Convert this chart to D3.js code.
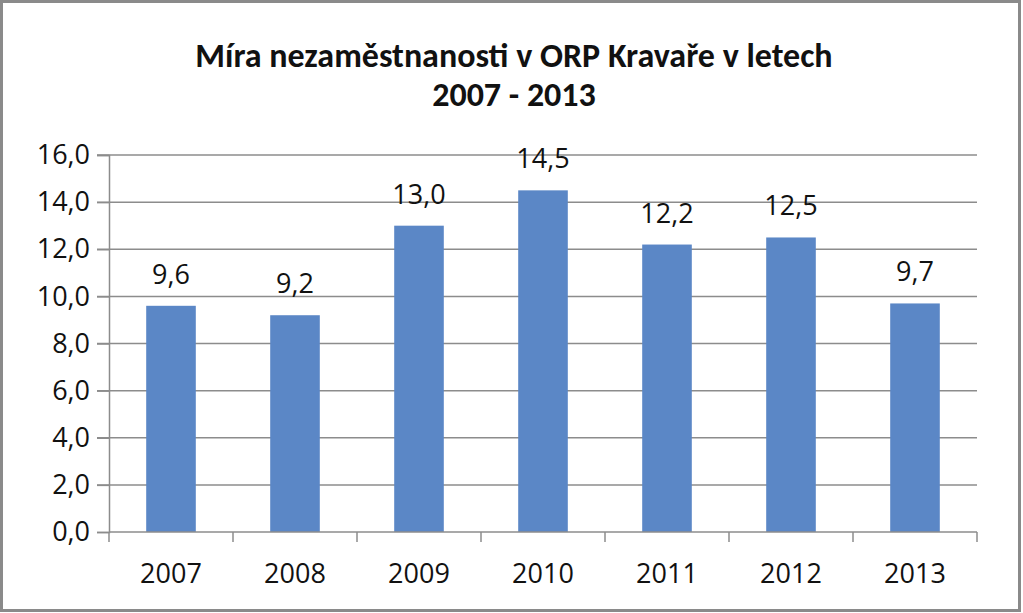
<!DOCTYPE html>
<html>
<head>
<meta charset="utf-8">
<script src="https://cdn.jsdelivr.net/npm/d3@7"></script>
<style>
  body { margin: 0; background: #fff; }
  svg text { font-family: "Open Sans", Lato, sans-serif; fill: #111; }
  svg text.title { font-family: Carlito, Lato, sans-serif; }
</style>
</head>
<body>
<div class="chart"></div>
<script>
var years = ["2007", "2008", "2009", "2010", "2011", "2012", "2013"];
var rates = [9.6, 9.2, 13.0, 14.5, 12.2, 12.5, 9.7];
var yTicks = [0, 2, 4, 6, 8, 10, 12, 14, 16];
var titleLines = ["Míra nezaměstnanosti v ORP Kravaře v letech", "2007 - 2013"];

var W = 1023, H = 613;
var margin = { top: 155, right: 46, bottom: 81, left: 109 };
var width = W - margin.left - margin.right,
    height = H - margin.top - margin.bottom;

var fmt = function (v) { return d3.format(".1f")(v).replace(".", ","); };

var svg = d3.select(".chart")
    .append("svg")
    .attr("width", W)
    .attr("height", H);

// outer frame
svg.append("rect")
    .attr("x", 1.5).attr("y", 1.5)
    .attr("width", W - 5).attr("height", H - 4)
    .attr("fill", "none")
    .attr("stroke", "#8a8a8a")
    .attr("stroke-width", 3);

svg.selectAll(".title")
    .data(titleLines)
    .enter()
    .append("text")
    .attr("class", "title")
    .attr("x", 514)
    .attr("y", (d, i) => 67 + i * 39)
    .attr("text-anchor", "middle")
    .style("font-size", "34px")
    .style("font-weight", "bold")
    .text(d => d);

var g = svg.append("g")
    .attr("transform", "translate(" + margin.left + "," + margin.top + ")");

var x = d3.scaleBand().domain(years).range([0, width]).paddingInner(0.6).paddingOuter(0.3);
var xb = d3.scaleBand().domain(years).range([0, width]);
var y = d3.scaleLinear().domain([0, 16]).range([height, 0]);

// gridlines
g.append("g")
    .selectAll("line")
    .data(yTicks.slice(1))
    .enter()
    .append("line")
    .attr("x1", -12).attr("x2", width)
    .attr("y1", d => y(d)).attr("y2", d => y(d))
    .attr("stroke", "#8c8c8c")
    .attr("stroke-width", 1.5);

// y axis
var yAxis = g.append("g")
    .call(d3.axisLeft(y).tickValues(yTicks).tickFormat(fmt).tickSize(12).tickPadding(7));
yAxis.attr("font-family", null);
yAxis.select(".domain").attr("stroke", "#8c8c8c").attr("stroke-width", 1.5);
yAxis.selectAll(".tick line").attr("stroke", "#8c8c8c").attr("stroke-width", 1.5);
yAxis.selectAll("text").style("font-size", "27px").attr("fill", "#111");

// bars
g.selectAll(".bar")
    .data(rates)
    .enter()
    .append("rect")
    .attr("class", "bar")
    .attr("x", (d, i) => x(years[i]))
    .attr("width", x.bandwidth())
    .attr("y", d => y(d))
    .attr("height", d => height - y(d))
    .attr("fill", "#5b87c6");

// value labels
g.selectAll(".lbl")
    .data(rates)
    .enter()
    .append("text")
    .attr("class", "lbl")
    .attr("x", (d, i) => x(years[i]) + x.bandwidth() / 2)
    .attr("y", d => y(d) - 22)
    .attr("text-anchor", "middle")
    .style("font-size", "27px")
    .text(fmt);

// x axis with ticks between categories
var xAxisG = g.append("g").attr("transform", "translate(0," + height + ")");
xAxisG.append("line")
    .attr("x1", 0).attr("x2", width)
    .attr("stroke", "#8c8c8c").attr("stroke-width", 1.5);
xAxisG.selectAll(".xt")
    .data([null].concat(years))
    .enter()
    .append("line")
    .attr("x1", (d, i) => i === 0 ? 0 : xb(d) + xb.bandwidth())
    .attr("x2", (d, i) => i === 0 ? 0 : xb(d) + xb.bandwidth())
    .attr("y1", 0).attr("y2", 10)
    .attr("stroke", "#8c8c8c").attr("stroke-width", 1.5);
xAxisG.selectAll(".xl")
    .data(years)
    .enter()
    .append("text")
    .attr("x", d => xb(d) + xb.bandwidth() / 2)
    .attr("y", 51)
    .attr("text-anchor", "middle")
    .style("font-size", "27px")
    .text(d => d);
</script>
</body>
</html>
